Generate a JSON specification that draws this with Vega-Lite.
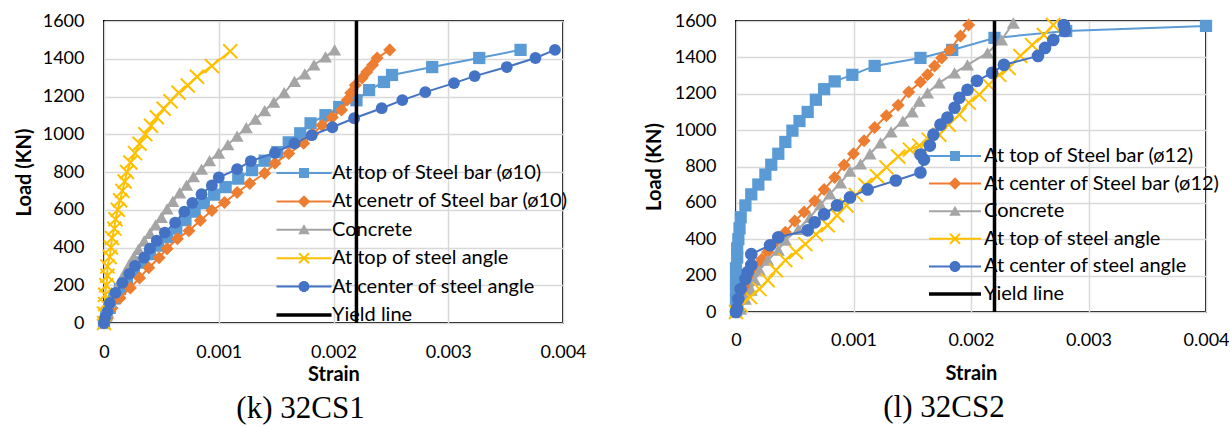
{
  "$schema": "https://vega.github.io/schema/vega-lite/v6.json",
  "padding": {"left": 13, "top": 11, "right": 0, "bottom": 0},
  "spacing": 55,
  "background": "white",
  "config": {
    "view": {"stroke": "black", "strokeWidth": 2},
    "axis": {
      "labelFont": "Lato", "labelFontSize": 18, "labelColor": "#000",
      "titleFont": "Lato", "titleFontSize": 20, "titleFontWeight": "bold", "titleColor": "#000",
      "gridColor": "#D9D9D9", "gridWidth": 1.5, "domain": false, "ticks": false
    },
    "legend": {
      "labelFont": "Lato", "labelFontSize": 20, "labelColor": "#000", "padding": 0, "labelLimit": 0,
      "symbolStrokeWidth": 0, "symbolSize": 100, "title": null, "orient": "none"
    },
    "title": {"font": "Liberation Serif", "fontSize": 31, "fontWeight": "normal", "color": "#000"}
  },
  "resolve": {
    "scale": {"color": "independent", "shape": "independent", "x": "independent", "y": "independent"},
    "legend": {"color": "independent", "shape": "independent"}
  },
  "datasets": {
    "k": [
      {"series": "At top of Steel bar (ø10)", "strain": 0, "load": 0},
      {"series": "At top of Steel bar (ø10)", "strain": 0.00002, "load": 40},
      {"series": "At top of Steel bar (ø10)", "strain": 0.00005, "load": 80},
      {"series": "At top of Steel bar (ø10)", "strain": 0.00009, "load": 130},
      {"series": "At top of Steel bar (ø10)", "strain": 0.00014, "load": 180},
      {"series": "At top of Steel bar (ø10)", "strain": 0.0002, "load": 230},
      {"series": "At top of Steel bar (ø10)", "strain": 0.00026, "load": 275},
      {"series": "At top of Steel bar (ø10)", "strain": 0.00033, "load": 320},
      {"series": "At top of Steel bar (ø10)", "strain": 0.0004, "load": 365},
      {"series": "At top of Steel bar (ø10)", "strain": 0.00047, "load": 410},
      {"series": "At top of Steel bar (ø10)", "strain": 0.00055, "load": 455},
      {"series": "At top of Steel bar (ø10)", "strain": 0.00063, "load": 500},
      {"series": "At top of Steel bar (ø10)", "strain": 0.00071, "load": 545},
      {"series": "At top of Steel bar (ø10)", "strain": 0.00079, "load": 590},
      {"series": "At top of Steel bar (ø10)", "strain": 0.00087, "load": 635},
      {"series": "At top of Steel bar (ø10)", "strain": 0.00096, "load": 680},
      {"series": "At top of Steel bar (ø10)", "strain": 0.00106, "load": 720},
      {"series": "At top of Steel bar (ø10)", "strain": 0.00117, "load": 765},
      {"series": "At top of Steel bar (ø10)", "strain": 0.00129, "load": 810},
      {"series": "At top of Steel bar (ø10)", "strain": 0.0014, "load": 860},
      {"series": "At top of Steel bar (ø10)", "strain": 0.00151, "load": 905},
      {"series": "At top of Steel bar (ø10)", "strain": 0.00161, "load": 957},
      {"series": "At top of Steel bar (ø10)", "strain": 0.00171, "load": 1005},
      {"series": "At top of Steel bar (ø10)", "strain": 0.0018, "load": 1058},
      {"series": "At top of Steel bar (ø10)", "strain": 0.00193, "load": 1101},
      {"series": "At top of Steel bar (ø10)", "strain": 0.00205, "load": 1144},
      {"series": "At top of Steel bar (ø10)", "strain": 0.0022, "load": 1180},
      {"series": "At top of Steel bar (ø10)", "strain": 0.00231, "load": 1234},
      {"series": "At top of Steel bar (ø10)", "strain": 0.00244, "load": 1277},
      {"series": "At top of Steel bar (ø10)", "strain": 0.00251, "load": 1314},
      {"series": "At top of Steel bar (ø10)", "strain": 0.00286, "load": 1356},
      {"series": "At top of Steel bar (ø10)", "strain": 0.00327, "load": 1404},
      {"series": "At top of Steel bar (ø10)", "strain": 0.00363, "load": 1447},
      {"series": "At cenetr of Steel bar (ø10)", "strain": 0, "load": 0},
      {"series": "At cenetr of Steel bar (ø10)", "strain": 0.00003, "load": 27},
      {"series": "At cenetr of Steel bar (ø10)", "strain": 0.00007, "load": 80},
      {"series": "At cenetr of Steel bar (ø10)", "strain": 0.00014, "load": 133},
      {"series": "At cenetr of Steel bar (ø10)", "strain": 0.00023, "load": 186},
      {"series": "At cenetr of Steel bar (ø10)", "strain": 0.00031, "load": 239},
      {"series": "At cenetr of Steel bar (ø10)", "strain": 0.00039, "load": 293},
      {"series": "At cenetr of Steel bar (ø10)", "strain": 0.00048, "load": 346},
      {"series": "At cenetr of Steel bar (ø10)", "strain": 0.00055, "load": 394},
      {"series": "At cenetr of Steel bar (ø10)", "strain": 0.00064, "load": 447},
      {"series": "At cenetr of Steel bar (ø10)", "strain": 0.00074, "load": 489},
      {"series": "At cenetr of Steel bar (ø10)", "strain": 0.00084, "load": 543},
      {"series": "At cenetr of Steel bar (ø10)", "strain": 0.00094, "load": 596},
      {"series": "At cenetr of Steel bar (ø10)", "strain": 0.00105, "load": 638},
      {"series": "At cenetr of Steel bar (ø10)", "strain": 0.00116, "load": 691},
      {"series": "At cenetr of Steel bar (ø10)", "strain": 0.00127, "load": 739},
      {"series": "At cenetr of Steel bar (ø10)", "strain": 0.0014, "load": 793},
      {"series": "At cenetr of Steel bar (ø10)", "strain": 0.00149, "load": 846},
      {"series": "At cenetr of Steel bar (ø10)", "strain": 0.00161, "load": 898},
      {"series": "At cenetr of Steel bar (ø10)", "strain": 0.00174, "load": 952},
      {"series": "At cenetr of Steel bar (ø10)", "strain": 0.00182, "load": 1000},
      {"series": "At cenetr of Steel bar (ø10)", "strain": 0.0019, "load": 1048},
      {"series": "At cenetr of Steel bar (ø10)", "strain": 0.00199, "load": 1090},
      {"series": "At cenetr of Steel bar (ø10)", "strain": 0.00207, "load": 1128},
      {"series": "At cenetr of Steel bar (ø10)", "strain": 0.00212, "load": 1181},
      {"series": "At cenetr of Steel bar (ø10)", "strain": 0.00215, "load": 1218},
      {"series": "At cenetr of Steel bar (ø10)", "strain": 0.00219, "load": 1260},
      {"series": "At cenetr of Steel bar (ø10)", "strain": 0.00225, "load": 1298},
      {"series": "At cenetr of Steel bar (ø10)", "strain": 0.00229, "load": 1330},
      {"series": "At cenetr of Steel bar (ø10)", "strain": 0.00234, "load": 1367},
      {"series": "At cenetr of Steel bar (ø10)", "strain": 0.00238, "load": 1404},
      {"series": "At cenetr of Steel bar (ø10)", "strain": 0.00249, "load": 1447},
      {"series": "Concrete", "strain": 0, "load": 0},
      {"series": "Concrete", "strain": 0.00003, "load": 60},
      {"series": "Concrete", "strain": 0.00006, "load": 110},
      {"series": "Concrete", "strain": 0.0001, "load": 170},
      {"series": "Concrete", "strain": 0.00014, "load": 220},
      {"series": "Concrete", "strain": 0.00018, "load": 265},
      {"series": "Concrete", "strain": 0.00022, "load": 310},
      {"series": "Concrete", "strain": 0.00026, "load": 350},
      {"series": "Concrete", "strain": 0.0003, "load": 390},
      {"series": "Concrete", "strain": 0.00035, "load": 435},
      {"series": "Concrete", "strain": 0.0004, "load": 475},
      {"series": "Concrete", "strain": 0.00045, "load": 520},
      {"series": "Concrete", "strain": 0.0005, "load": 560},
      {"series": "Concrete", "strain": 0.00055, "load": 605},
      {"series": "Concrete", "strain": 0.0006, "load": 645},
      {"series": "Concrete", "strain": 0.00066, "load": 690},
      {"series": "Concrete", "strain": 0.00072, "load": 730},
      {"series": "Concrete", "strain": 0.00078, "load": 775},
      {"series": "Concrete", "strain": 0.00085, "load": 815},
      {"series": "Concrete", "strain": 0.00092, "load": 860},
      {"series": "Concrete", "strain": 0.001, "load": 900},
      {"series": "Concrete", "strain": 0.00108, "load": 945},
      {"series": "Concrete", "strain": 0.00116, "load": 990},
      {"series": "Concrete", "strain": 0.00124, "load": 1035},
      {"series": "Concrete", "strain": 0.00132, "load": 1080},
      {"series": "Concrete", "strain": 0.0014, "load": 1125},
      {"series": "Concrete", "strain": 0.00148, "load": 1170},
      {"series": "Concrete", "strain": 0.00157, "load": 1220},
      {"series": "Concrete", "strain": 0.00166, "load": 1280},
      {"series": "Concrete", "strain": 0.00175, "load": 1320},
      {"series": "Concrete", "strain": 0.00183, "load": 1367},
      {"series": "Concrete", "strain": 0.00193, "load": 1410},
      {"series": "Concrete", "strain": 0.00201, "load": 1447},
      {"series": "At top of steel angle", "strain": 0, "load": 0},
      {"series": "At top of steel angle", "strain": 0, "load": 50},
      {"series": "At top of steel angle", "strain": 0.00001, "load": 100},
      {"series": "At top of steel angle", "strain": 0.00001, "load": 150},
      {"series": "At top of steel angle", "strain": 0.00002, "load": 200},
      {"series": "At top of steel angle", "strain": 0.00003, "load": 250},
      {"series": "At top of steel angle", "strain": 0.00003, "load": 300},
      {"series": "At top of steel angle", "strain": 0.00005, "load": 350},
      {"series": "At top of steel angle", "strain": 0.00006, "load": 400},
      {"series": "At top of steel angle", "strain": 0.00007, "load": 450},
      {"series": "At top of steel angle", "strain": 0.00009, "load": 500},
      {"series": "At top of steel angle", "strain": 0.0001, "load": 550},
      {"series": "At top of steel angle", "strain": 0.00012, "load": 600},
      {"series": "At top of steel angle", "strain": 0.00014, "load": 650},
      {"series": "At top of steel angle", "strain": 0.00016, "load": 700},
      {"series": "At top of steel angle", "strain": 0.00018, "load": 750},
      {"series": "At top of steel angle", "strain": 0.0002, "load": 800},
      {"series": "At top of steel angle", "strain": 0.00023, "load": 850},
      {"series": "At top of steel angle", "strain": 0.00027, "load": 900},
      {"series": "At top of steel angle", "strain": 0.00031, "load": 950},
      {"series": "At top of steel angle", "strain": 0.00036, "load": 1000},
      {"series": "At top of steel angle", "strain": 0.00041, "load": 1045},
      {"series": "At top of steel angle", "strain": 0.00046, "load": 1090},
      {"series": "At top of steel angle", "strain": 0.00052, "load": 1135},
      {"series": "At top of steel angle", "strain": 0.00058, "load": 1175},
      {"series": "At top of steel angle", "strain": 0.00065, "load": 1220},
      {"series": "At top of steel angle", "strain": 0.00073, "load": 1258},
      {"series": "At top of steel angle", "strain": 0.00081, "load": 1305},
      {"series": "At top of steel angle", "strain": 0.00094, "load": 1362},
      {"series": "At top of steel angle", "strain": 0.0011, "load": 1440},
      {"series": "At center of steel angle", "strain": 0, "load": 0},
      {"series": "At center of steel angle", "strain": 0.00001, "load": 30},
      {"series": "At center of steel angle", "strain": 0.00003, "load": 60},
      {"series": "At center of steel angle", "strain": 0.00005, "load": 106},
      {"series": "At center of steel angle", "strain": 0.0001, "load": 160},
      {"series": "At center of steel angle", "strain": 0.00016, "load": 213},
      {"series": "At center of steel angle", "strain": 0.00022, "load": 260},
      {"series": "At center of steel angle", "strain": 0.00027, "load": 303},
      {"series": "At center of steel angle", "strain": 0.00035, "load": 346},
      {"series": "At center of steel angle", "strain": 0.0004, "load": 394},
      {"series": "At center of steel angle", "strain": 0.00046, "load": 436},
      {"series": "At center of steel angle", "strain": 0.00053, "load": 479},
      {"series": "At center of steel angle", "strain": 0.00062, "load": 532},
      {"series": "At center of steel angle", "strain": 0.0007, "load": 590},
      {"series": "At center of steel angle", "strain": 0.00077, "load": 636},
      {"series": "At center of steel angle", "strain": 0.00085, "load": 682},
      {"series": "At center of steel angle", "strain": 0.00094, "load": 729},
      {"series": "At center of steel angle", "strain": 0.001, "load": 771},
      {"series": "At center of steel angle", "strain": 0.00116, "load": 815},
      {"series": "At center of steel angle", "strain": 0.00128, "load": 858},
      {"series": "At center of steel angle", "strain": 0.00149, "load": 902},
      {"series": "At center of steel angle", "strain": 0.00166, "load": 952},
      {"series": "At center of steel angle", "strain": 0.00181, "load": 995},
      {"series": "At center of steel angle", "strain": 0.00199, "load": 1037},
      {"series": "At center of steel angle", "strain": 0.00218, "load": 1085},
      {"series": "At center of steel angle", "strain": 0.00242, "load": 1138},
      {"series": "At center of steel angle", "strain": 0.0026, "load": 1181},
      {"series": "At center of steel angle", "strain": 0.0028, "load": 1223},
      {"series": "At center of steel angle", "strain": 0.00305, "load": 1271},
      {"series": "At center of steel angle", "strain": 0.00323, "load": 1308},
      {"series": "At center of steel angle", "strain": 0.00351, "load": 1356},
      {"series": "At center of steel angle", "strain": 0.00376, "load": 1404},
      {"series": "At center of steel angle", "strain": 0.00393, "load": 1447},
      {"series": "Yield line", "strain": 0.0022, "load": 0},
      {"series": "Yield line", "strain": 0.0022, "load": 1600}
    ],
    "l": [
      {"series": "At top of Steel bar (ø12)", "strain": 0, "load": 0},
      {"series": "At top of Steel bar (ø12)", "strain": 0, "load": 60},
      {"series": "At top of Steel bar (ø12)", "strain": 0, "load": 120},
      {"series": "At top of Steel bar (ø12)", "strain": 0, "load": 180},
      {"series": "At top of Steel bar (ø12)", "strain": 0, "load": 240},
      {"series": "At top of Steel bar (ø12)", "strain": 0.00001, "load": 300},
      {"series": "At top of Steel bar (ø12)", "strain": 0.00001, "load": 350},
      {"series": "At top of Steel bar (ø12)", "strain": 0.00002, "load": 400},
      {"series": "At top of Steel bar (ø12)", "strain": 0.00003, "load": 460},
      {"series": "At top of Steel bar (ø12)", "strain": 0.00004, "load": 521},
      {"series": "At top of Steel bar (ø12)", "strain": 0.00008, "load": 586},
      {"series": "At top of Steel bar (ø12)", "strain": 0.00013, "load": 647},
      {"series": "At top of Steel bar (ø12)", "strain": 0.00019, "load": 701},
      {"series": "At top of Steel bar (ø12)", "strain": 0.00025, "load": 756},
      {"series": "At top of Steel bar (ø12)", "strain": 0.0003, "load": 810},
      {"series": "At top of Steel bar (ø12)", "strain": 0.00036, "load": 870},
      {"series": "At top of Steel bar (ø12)", "strain": 0.00042, "load": 935},
      {"series": "At top of Steel bar (ø12)", "strain": 0.00048, "load": 997},
      {"series": "At top of Steel bar (ø12)", "strain": 0.00054, "load": 1050},
      {"series": "At top of Steel bar (ø12)", "strain": 0.00061, "load": 1100},
      {"series": "At top of Steel bar (ø12)", "strain": 0.00068, "load": 1167},
      {"series": "At top of Steel bar (ø12)", "strain": 0.00075, "load": 1225},
      {"series": "At top of Steel bar (ø12)", "strain": 0.00084, "load": 1268},
      {"series": "At top of Steel bar (ø12)", "strain": 0.00099, "load": 1304},
      {"series": "At top of Steel bar (ø12)", "strain": 0.00118, "load": 1353},
      {"series": "At top of Steel bar (ø12)", "strain": 0.00157, "load": 1397},
      {"series": "At top of Steel bar (ø12)", "strain": 0.00184, "load": 1441},
      {"series": "At top of Steel bar (ø12)", "strain": 0.0022, "load": 1507},
      {"series": "At top of Steel bar (ø12)", "strain": 0.00281, "load": 1545},
      {"series": "At top of Steel bar (ø12)", "strain": 0.004, "load": 1573},
      {"series": "At center of Steel bar (ø12)", "strain": 0, "load": 0},
      {"series": "At center of Steel bar (ø12)", "strain": 0.00003, "load": 50},
      {"series": "At center of Steel bar (ø12)", "strain": 0.00007, "load": 100},
      {"series": "At center of Steel bar (ø12)", "strain": 0.0001, "load": 150},
      {"series": "At center of Steel bar (ø12)", "strain": 0.00014, "load": 200},
      {"series": "At center of Steel bar (ø12)", "strain": 0.00018, "load": 250},
      {"series": "At center of Steel bar (ø12)", "strain": 0.00022, "load": 290},
      {"series": "At center of Steel bar (ø12)", "strain": 0.00027, "load": 330},
      {"series": "At center of Steel bar (ø12)", "strain": 0.00033, "load": 384},
      {"series": "At center of Steel bar (ø12)", "strain": 0.00042, "load": 438},
      {"series": "At center of Steel bar (ø12)", "strain": 0.0005, "load": 500},
      {"series": "At center of Steel bar (ø12)", "strain": 0.00058, "load": 550},
      {"series": "At center of Steel bar (ø12)", "strain": 0.00067, "load": 610},
      {"series": "At center of Steel bar (ø12)", "strain": 0.00075, "load": 674},
      {"series": "At center of Steel bar (ø12)", "strain": 0.00084, "load": 740},
      {"series": "At center of Steel bar (ø12)", "strain": 0.00092, "load": 808},
      {"series": "At center of Steel bar (ø12)", "strain": 0.001, "load": 870},
      {"series": "At center of Steel bar (ø12)", "strain": 0.00109, "load": 942},
      {"series": "At center of Steel bar (ø12)", "strain": 0.00118, "load": 1014},
      {"series": "At center of Steel bar (ø12)", "strain": 0.00128, "load": 1079},
      {"series": "At center of Steel bar (ø12)", "strain": 0.00138, "load": 1137},
      {"series": "At center of Steel bar (ø12)", "strain": 0.00147, "load": 1210},
      {"series": "At center of Steel bar (ø12)", "strain": 0.00157, "load": 1265},
      {"series": "At center of Steel bar (ø12)", "strain": 0.00163, "load": 1304},
      {"series": "At center of Steel bar (ø12)", "strain": 0.00169, "load": 1353},
      {"series": "At center of Steel bar (ø12)", "strain": 0.00175, "load": 1397},
      {"series": "At center of Steel bar (ø12)", "strain": 0.00182, "load": 1441},
      {"series": "At center of Steel bar (ø12)", "strain": 0.00191, "load": 1518},
      {"series": "At center of Steel bar (ø12)", "strain": 0.00198, "load": 1578},
      {"series": "Concrete", "strain": 0, "load": 0},
      {"series": "Concrete", "strain": 0.00004, "load": 16},
      {"series": "Concrete", "strain": 0.00008, "load": 71},
      {"series": "Concrete", "strain": 0.00013, "load": 121},
      {"series": "Concrete", "strain": 0.00016, "load": 175},
      {"series": "Concrete", "strain": 0.0002, "load": 230},
      {"series": "Concrete", "strain": 0.00027, "load": 285},
      {"series": "Concrete", "strain": 0.00036, "load": 340},
      {"series": "Concrete", "strain": 0.00042, "load": 395},
      {"series": "Concrete", "strain": 0.00053, "load": 455},
      {"series": "Concrete", "strain": 0.00063, "load": 521},
      {"series": "Concrete", "strain": 0.00072, "load": 590},
      {"series": "Concrete", "strain": 0.0008, "load": 650},
      {"series": "Concrete", "strain": 0.00089, "load": 710},
      {"series": "Concrete", "strain": 0.00097, "load": 775},
      {"series": "Concrete", "strain": 0.00106, "load": 815},
      {"series": "Concrete", "strain": 0.00114, "load": 870},
      {"series": "Concrete", "strain": 0.00123, "load": 930},
      {"series": "Concrete", "strain": 0.00132, "load": 990},
      {"series": "Concrete", "strain": 0.00142, "load": 1050},
      {"series": "Concrete", "strain": 0.0015, "load": 1100},
      {"series": "Concrete", "strain": 0.00156, "load": 1160},
      {"series": "Concrete", "strain": 0.00163, "load": 1205},
      {"series": "Concrete", "strain": 0.00173, "load": 1260},
      {"series": "Concrete", "strain": 0.00186, "load": 1315},
      {"series": "Concrete", "strain": 0.00197, "load": 1359},
      {"series": "Concrete", "strain": 0.00214, "load": 1425},
      {"series": "Concrete", "strain": 0.00226, "load": 1496},
      {"series": "Concrete", "strain": 0.00236, "load": 1589},
      {"series": "At top of steel angle", "strain": 0, "load": 0},
      {"series": "At top of steel angle", "strain": 0.00004, "load": 38},
      {"series": "At top of steel angle", "strain": 0.00012, "load": 82},
      {"series": "At top of steel angle", "strain": 0.0002, "load": 126},
      {"series": "At top of steel angle", "strain": 0.00027, "load": 175},
      {"series": "At top of steel angle", "strain": 0.00034, "load": 230},
      {"series": "At top of steel angle", "strain": 0.00042, "load": 285},
      {"series": "At top of steel angle", "strain": 0.00051, "load": 329},
      {"series": "At top of steel angle", "strain": 0.00059, "load": 373},
      {"series": "At top of steel angle", "strain": 0.00068, "load": 427},
      {"series": "At top of steel angle", "strain": 0.00078, "load": 477},
      {"series": "At top of steel angle", "strain": 0.00086, "load": 531},
      {"series": "At top of steel angle", "strain": 0.00094, "load": 586},
      {"series": "At top of steel angle", "strain": 0.00102, "load": 644},
      {"series": "At top of steel angle", "strain": 0.0011, "load": 698},
      {"series": "At top of steel angle", "strain": 0.0012, "load": 746},
      {"series": "At top of steel angle", "strain": 0.00128, "load": 795},
      {"series": "At top of steel angle", "strain": 0.00138, "load": 855},
      {"series": "At top of steel angle", "strain": 0.00148, "load": 893},
      {"series": "At top of steel angle", "strain": 0.00156, "load": 915},
      {"series": "At top of steel angle", "strain": 0.00164, "load": 948},
      {"series": "At top of steel angle", "strain": 0.00173, "load": 975},
      {"series": "At top of steel angle", "strain": 0.00181, "load": 1030},
      {"series": "At top of steel angle", "strain": 0.0019, "load": 1085},
      {"series": "At top of steel angle", "strain": 0.00198, "load": 1151},
      {"series": "At top of steel angle", "strain": 0.00207, "load": 1195},
      {"series": "At top of steel angle", "strain": 0.00215, "load": 1249},
      {"series": "At top of steel angle", "strain": 0.00224, "load": 1304},
      {"series": "At top of steel angle", "strain": 0.00232, "load": 1342},
      {"series": "At top of steel angle", "strain": 0.00242, "load": 1408},
      {"series": "At top of steel angle", "strain": 0.00252, "load": 1468},
      {"series": "At top of steel angle", "strain": 0.00262, "load": 1523},
      {"series": "At top of steel angle", "strain": 0.0027, "load": 1578},
      {"series": "At center of steel angle", "strain": 0, "load": 0},
      {"series": "At center of steel angle", "strain": 0.00001, "load": 20},
      {"series": "At center of steel angle", "strain": 0.00002, "load": 71},
      {"series": "At center of steel angle", "strain": 0.00004, "load": 126},
      {"series": "At center of steel angle", "strain": 0.00008, "load": 181},
      {"series": "At center of steel angle", "strain": 0.0001, "load": 220},
      {"series": "At center of steel angle", "strain": 0.00013, "load": 258},
      {"series": "At center of steel angle", "strain": 0.00013, "load": 318},
      {"series": "At center of steel angle", "strain": 0.00029, "load": 367},
      {"series": "At center of steel angle", "strain": 0.00036, "load": 411},
      {"series": "At center of steel angle", "strain": 0.00061, "load": 449},
      {"series": "At center of steel angle", "strain": 0.00067, "load": 493},
      {"series": "At center of steel angle", "strain": 0.00075, "load": 537},
      {"series": "At center of steel angle", "strain": 0.00086, "load": 586},
      {"series": "At center of steel angle", "strain": 0.00097, "load": 630},
      {"series": "At center of steel angle", "strain": 0.00112, "load": 674},
      {"series": "At center of steel angle", "strain": 0.00136, "load": 723},
      {"series": "At center of steel angle", "strain": 0.00157, "load": 767},
      {"series": "At center of steel angle", "strain": 0.0016, "load": 838},
      {"series": "At center of steel angle", "strain": 0.00157, "load": 866},
      {"series": "At center of steel angle", "strain": 0.00165, "load": 915},
      {"series": "At center of steel angle", "strain": 0.00168, "load": 975},
      {"series": "At center of steel angle", "strain": 0.00174, "load": 1030},
      {"series": "At center of steel angle", "strain": 0.0018, "load": 1069},
      {"series": "At center of steel angle", "strain": 0.00186, "load": 1123},
      {"series": "At center of steel angle", "strain": 0.0019, "load": 1178},
      {"series": "At center of steel angle", "strain": 0.00197, "load": 1222},
      {"series": "At center of steel angle", "strain": 0.00205, "load": 1271},
      {"series": "At center of steel angle", "strain": 0.00218, "load": 1315},
      {"series": "At center of steel angle", "strain": 0.00228, "load": 1359},
      {"series": "At center of steel angle", "strain": 0.00257, "load": 1408},
      {"series": "At center of steel angle", "strain": 0.00263, "load": 1452},
      {"series": "At center of steel angle", "strain": 0.0027, "load": 1496},
      {"series": "At center of steel angle", "strain": 0.0028, "load": 1545},
      {"series": "At center of steel angle", "strain": 0.00279, "load": 1578},
      {"series": "Yield line", "strain": 0.0022, "load": 0},
      {"series": "Yield line", "strain": 0.0022, "load": 1600}
    ]
  },
  "hconcat": [
    {
      "width": 459,
      "height": 302,
      "data": {"name": "k"},
      "title": {"text": "(k) 32CS1", "orient": "bottom", "anchor": "middle", "frame": "group", "dx": -33, "offset": 10},
      "encoding": {
        "x": {"field": "strain", "type": "quantitative", "title": "Strain",
          "scale": {"domain": [0, 0.004], "nice": false, "zero": false},
          "axis": {"values": [0, 0.001, 0.002, 0.003, 0.004], "format": ".3~f", "labelFlush": false, "labelPadding": 20, "titlePadding": 3}},
        "y": {"field": "load", "type": "quantitative", "title": "Load (KN)",
          "scale": {"domain": [0, 1600], "nice": false},
          "axis": {"values": [0, 200, 400, 600, 800, 1000, 1200, 1400, 1600], "format": "d", "labelPadding": 20, "titlePadding": 8}},
        "order": {"field": "load", "type": "quantitative"}
      },
      "layer": [
        {"transform": [{"filter": "datum.series === 'At top of Steel bar (ø10)'"}], "mark": {"type": "line", "color": "#5B9BD5", "strokeWidth": 2}},
        {"transform": [{"filter": "datum.series === 'At top of Steel bar (ø10)'"}], "mark": {"type": "point", "shape": "square", "filled": true, "color": "#5B9BD5", "size": 150, "opacity": 1}},
        {"transform": [{"filter": "datum.series === 'At cenetr of Steel bar (ø10)'"}], "mark": {"type": "line", "color": "#ED7D31", "strokeWidth": 2}},
        {"transform": [{"filter": "datum.series === 'At cenetr of Steel bar (ø10)'"}], "mark": {"type": "point", "shape": "diamond", "filled": true, "color": "#ED7D31", "size": 170, "opacity": 1}},
        {"transform": [{"filter": "datum.series === 'Concrete'"}], "mark": {"type": "line", "color": "#A5A5A5", "strokeWidth": 2}},
        {"transform": [{"filter": "datum.series === 'Concrete'"}], "mark": {"type": "point", "shape": "triangle-up", "filled": true, "color": "#A5A5A5", "size": 170, "opacity": 1}},
        {"transform": [{"filter": "datum.series === 'At top of steel angle'"}], "mark": {"type": "line", "color": "#FFC000", "strokeWidth": 2}},
        {"transform": [{"filter": "datum.series === 'At top of steel angle'"}], "mark": {"type": "point", "shape": "M-1,-1L1,1M-1,1L1,-1", "filled": false, "color": "#FFC000", "strokeWidth": 2, "size": 196, "opacity": 1}},
        {"transform": [{"filter": "datum.series === 'At center of steel angle'"}], "mark": {"type": "line", "color": "#4472C4", "strokeWidth": 2}},
        {"transform": [{"filter": "datum.series === 'At center of steel angle'"}], "mark": {"type": "point", "shape": "circle", "filled": true, "color": "#4472C4", "size": 140, "opacity": 1}},
        {"transform": [{"filter": "datum.series === 'Yield line'"}], "mark": {"type": "line", "color": "#000000", "strokeWidth": 3.5}},
        {
          "transform": [{"filter": "datum.load < 0"}],
          "mark": {"type": "point", "filled": true, "opacity": 1},
          "encoding": {
            "color": {"field": "series", "type": "nominal",
              "scale": {"domain": ["At top of Steel bar (ø10)", "At cenetr of Steel bar (ø10)", "Concrete", "At top of steel angle", "At center of steel angle", "Yield line"],
                "range": ["#5B9BD5", "#ED7D31", "#A5A5A5", "#FFC000", "#4472C4", "#000000"]},
              "legend": {"legendX": 190, "legendY": 142, "labelOffset": 18, "rowPadding": 8.4}},
            "shape": {"field": "series", "type": "nominal",
              "scale": {"domain": ["At top of Steel bar (ø10)", "At cenetr of Steel bar (ø10)", "Concrete", "At top of steel angle", "At center of steel angle", "Yield line"],
                "range": [
                  "M-5.5,-0.2H5.5V0.2H-5.5Z M-1,-1H1V1H-1Z",
                  "M-5.5,-0.2H5.5V0.2H-5.5Z M0,-1.25L1.25,0L0,1.25L-1.25,0Z",
                  "M-5.5,-0.2H5.5V0.2H-5.5Z M0,-1.1L1.15,0.9H-1.15Z",
                  "M-5.5,-0.2H5.5V0.2H-5.5Z M-0.86,-1.14L1.14,0.86L0.86,1.14L-1.14,-0.86Z M-1.14,0.86L0.86,-1.14L1.14,-0.86L-0.86,1.14Z",
                  "M-5.5,-0.2H5.5V0.2H-5.5Z M-1.1,0A1.1,1.1 0 1,1 1.1,0A1.1,1.1 0 1,1 -1.1,0Z",
                  "M-5.5,-0.35H5.5V0.35H-5.5Z"
                ]},
              "legend": {"legendX": 190, "legendY": 142, "labelOffset": 18, "rowPadding": 8.4}}
          }
        }
      ]
    },
    {
      "width": 470,
      "height": 291,
      "data": {"name": "l"},
      "title": {"text": "(l) 32CS2", "orient": "bottom", "anchor": "middle", "frame": "group", "dx": -27, "offset": 10},
      "encoding": {
        "x": {"field": "strain", "type": "quantitative", "title": "Strain",
          "scale": {"domain": [0, 0.004], "nice": false, "zero": false},
          "axis": {"values": [0, 0.001, 0.002, 0.003, 0.004], "format": ".3~f", "labelFlush": false, "labelPadding": 19, "titlePadding": 14}},
        "y": {"field": "load", "type": "quantitative", "title": "Load (KN)",
          "scale": {"domain": [0, 1600], "nice": false},
          "axis": {"values": [0, 200, 400, 600, 800, 1000, 1200, 1400, 1600], "format": "d", "labelPadding": 20, "titlePadding": 10}},
        "order": {"field": "load", "type": "quantitative"}
      },
      "layer": [
        {"transform": [{"filter": "datum.series === 'At top of Steel bar (ø12)'"}], "mark": {"type": "line", "color": "#5B9BD5", "strokeWidth": 2}},
        {"transform": [{"filter": "datum.series === 'At top of Steel bar (ø12)'"}], "mark": {"type": "point", "shape": "square", "filled": true, "color": "#5B9BD5", "size": 150, "opacity": 1}},
        {"transform": [{"filter": "datum.series === 'At center of Steel bar (ø12)'"}], "mark": {"type": "line", "color": "#ED7D31", "strokeWidth": 2}},
        {"transform": [{"filter": "datum.series === 'At center of Steel bar (ø12)'"}], "mark": {"type": "point", "shape": "diamond", "filled": true, "color": "#ED7D31", "size": 170, "opacity": 1}},
        {"transform": [{"filter": "datum.series === 'Concrete'"}], "mark": {"type": "line", "color": "#A5A5A5", "strokeWidth": 2}},
        {"transform": [{"filter": "datum.series === 'Concrete'"}], "mark": {"type": "point", "shape": "triangle-up", "filled": true, "color": "#A5A5A5", "size": 170, "opacity": 1}},
        {"transform": [{"filter": "datum.series === 'At top of steel angle'"}], "mark": {"type": "line", "color": "#FFC000", "strokeWidth": 2}},
        {"transform": [{"filter": "datum.series === 'At top of steel angle'"}], "mark": {"type": "point", "shape": "M-1,-1L1,1M-1,1L1,-1", "filled": false, "color": "#FFC000", "strokeWidth": 2, "size": 196, "opacity": 1}},
        {"transform": [{"filter": "datum.series === 'At center of steel angle'"}], "mark": {"type": "line", "color": "#4472C4", "strokeWidth": 2}},
        {"transform": [{"filter": "datum.series === 'At center of steel angle'"}], "mark": {"type": "point", "shape": "circle", "filled": true, "color": "#4472C4", "size": 160, "opacity": 1}},
        {"transform": [{"filter": "datum.series === 'Yield line'"}], "mark": {"type": "line", "color": "#000000", "strokeWidth": 3.5}},
        {
          "transform": [{"filter": "datum.load < 0"}],
          "mark": {"type": "point", "filled": true, "opacity": 1},
          "encoding": {
            "color": {"field": "series", "type": "nominal",
              "scale": {"domain": ["At top of Steel bar (ø12)", "At center of Steel bar (ø12)", "Concrete", "At top of steel angle", "At center of steel angle", "Yield line"],
                "range": ["#5B9BD5", "#ED7D31", "#A5A5A5", "#FFC000", "#4472C4", "#000000"]},
              "legend": {"legendX": 209, "legendY": 125, "labelOffset": 19, "rowPadding": 7.6}},
            "shape": {"field": "series", "type": "nominal",
              "scale": {"domain": ["At top of Steel bar (ø12)", "At center of Steel bar (ø12)", "Concrete", "At top of steel angle", "At center of steel angle", "Yield line"],
                "range": [
                  "M-5.2,-0.2H5.2V0.2H-5.2Z M-1,-1H1V1H-1Z",
                  "M-5.2,-0.2H5.2V0.2H-5.2Z M0,-1.25L1.25,0L0,1.25L-1.25,0Z",
                  "M-5.2,-0.2H5.2V0.2H-5.2Z M0,-1.1L1.15,0.9H-1.15Z",
                  "M-5.2,-0.2H5.2V0.2H-5.2Z M-0.86,-1.14L1.14,0.86L0.86,1.14L-1.14,-0.86Z M-1.14,0.86L0.86,-1.14L1.14,-0.86L-0.86,1.14Z",
                  "M-5.2,-0.2H5.2V0.2H-5.2Z M-1.1,0A1.1,1.1 0 1,1 1.1,0A1.1,1.1 0 1,1 -1.1,0Z",
                  "M-5.2,-0.35H5.2V0.35H-5.2Z"
                ]},
              "legend": {"legendX": 209, "legendY": 125, "labelOffset": 19, "rowPadding": 7.6}}
          }
        }
      ]
    }
  ]
}
